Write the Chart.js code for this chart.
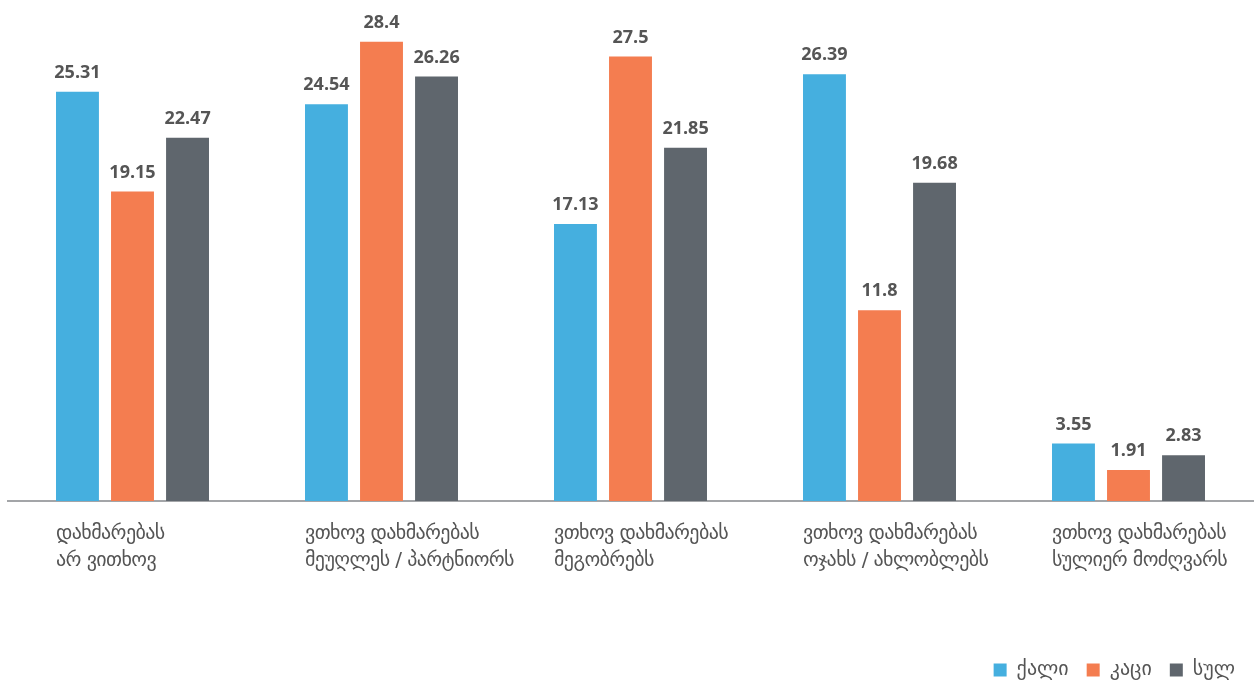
<!DOCTYPE html>
<html>
<head>
<meta charset="utf-8">
<script src="https://cdn.jsdelivr.net/npm/chart.js@4.4.0/dist/chart.umd.min.js"></script>
<style>
  html, body { margin: 0; padding: 0; background: #fff; }
  #wrap { width: 1258px; height: 681px; }
</style>
</head>
<body>
<div id="wrap"><canvas id="chart" width="1258" height="681"></canvas></div>
<script>
// カテゴリ（2行ラベル）
const categories = [
  ['დახმარებას', 'არ ვითხოვ'],
  ['ვთხოვ დახმარებას', 'მეუღლეს / პარტნიორს'],
  ['ვთხოვ დახმარებას', 'მეგობრებს'],
  ['ვთხოვ დახმარებას', 'ოჯახს / ახლობლებს'],
  ['ვთხოვ დახმარებას', 'სულიერ მოძღვარს']
];
const seriesNames = ['ქალი', 'კაცი', 'სულ'];
const women = [25.31, 24.54, 17.13, 26.39, 3.55];
const men = [19.15, 28.4, 27.5, 11.8, 1.91];
const total = [22.47, 26.26, 21.85, 19.68, 2.83];
const colors = ['#45AFDF', '#F47D50', '#5F666D'];

const textColor = '#555555';
const georgianFont = '"DejaVu Sans", "Noto Sans", sans-serif';

// 値ラベルとカテゴリラベルの描画
const labelPlugin = {
  id: 'barLabels',
  afterDatasetsDraw(chart) {
    const ctx = chart.ctx;
    ctx.save();
    ctx.fillStyle = textColor;
    ctx.font = 'bold 18px "Open Sans", sans-serif';
    ctx.textAlign = 'center';
    ctx.textBaseline = 'bottom';
    chart.data.datasets.forEach((ds, i) => {
      const meta = chart.getDatasetMeta(i);
      meta.data.forEach((bar, j) => {
        ctx.fillText(String(ds.data[j]), bar.x, bar.y - 10);
      });
    });

    // カテゴリラベル（左揃え）
    const first = chart.getDatasetMeta(0);
    const bottom = chart.chartArea.bottom;
    ctx.font = '20px ' + georgianFont;
    ctx.letterSpacing = '-0.6px';
    ctx.textAlign = 'left';
    ctx.textBaseline = 'middle';
    categories.forEach((lines, j) => {
      const bar = first.data[j];
      const left = bar.x - bar.width / 2;
      lines.forEach((line, k) => {
        ctx.fillText(line, left, bottom + 33 + k * 27);
      });
    });
    ctx.restore();
  }
};

new Chart(document.getElementById('chart'), {
  type: 'bar',
  data: {
    labels: categories,
    datasets: seriesNames.map((name, i) => ({
      label: name,
      data: [women, men, total][i],
      backgroundColor: colors[i],
      categoryPercentage: 0.663,
      barPercentage: 0.78
    }))
  },
  options: {
    responsive: false,
    animation: false,
    layout: {
      padding: { left: 8, right: 5, top: 16, bottom: -9 }
    },
    plugins: {
      legend: {
        position: 'bottom',
        align: 'end',
        labels: {
          boxWidth: 13,
          boxHeight: 13,
          padding: 18,
          color: textColor,
          font: { family: georgianFont, size: 20 }
        }
      },
      tooltip: { enabled: false }
    },
    scales: {
      x: {
        grid: { display: false },
        border: { display: true, color: '#A3A5A8', width: 2 },
        ticks: { display: false },
        afterFit(scale) { scale.height = 141; }
      },
      y: {
        display: false,
        min: 0,
        max: 30
      }
    }
  },
  plugins: [labelPlugin]
});
</script>
</body>
</html>
